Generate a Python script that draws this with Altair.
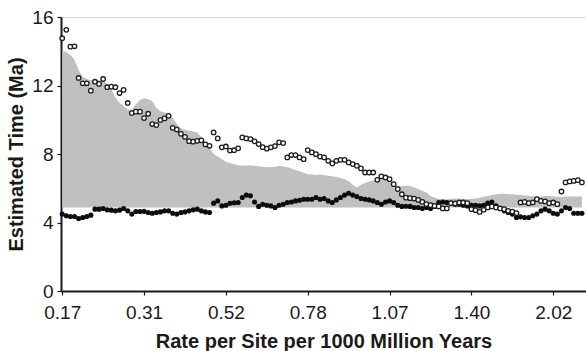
import altair as alt
import pandas as pd

# Rate labels at every 20th estimate
tick_index = [0, 20, 40, 60, 80, 100, 120]
tick_labels = ["0.17", "0.31", "0.52", "0.78", "1.07", "1.40", "2.02"]

# Open circles (estimated time, Ma)
open_times = [
    14.76, 15.25, 14.27, 14.29, 12.44, 12.13, 12.13, 11.7, 12.22, 12.09,
    12.38, 11.9, 11.93, 11.9, 11.56, 11.74, 10.98, 10.39, 10.47, 10.47,
    10.1, 10.35, 9.75, 9.69, 9.98, 10.08, 10.23, 9.53, 9.43, 9.18,
    9.0, 8.75, 8.72, 8.77, 8.8, 8.56, 8.48, 9.26, 8.91, 8.39,
    8.44, 8.2, 8.22, 8.33, 8.97, 8.91, 8.87, 8.74, 8.58, 8.4,
    8.31, 8.39, 8.46, 8.68, 8.64, 7.8, 7.94, 7.94, 7.8, 7.7,
    8.23, 8.09, 7.99, 7.85, 7.8, 7.6, 7.45, 7.6, 7.66, 7.66,
    7.51, 7.41, 7.31, 7.16, 6.92, 6.92, 6.92, 6.49, 6.69, 6.63,
    6.53, 6.24, 5.95, 5.65, 5.45, 5.42, 5.4, 5.32, 5.2, 5.07,
    5.01, 4.97, 4.94, 4.82, 4.82, 5.13, 5.11, 5.17, 5.17, 5.13,
    4.78, 4.72, 4.62, 4.74, 4.88, 4.94, 4.88, 4.82, 4.78, 4.68,
    4.64, 4.55, 5.17, 5.2, 5.13, 5.17, 5.36, 5.26, 5.23, 5.13,
    5.17, 5.07, 5.81, 6.34, 6.4, 6.43, 6.47, 6.34,
]

# Filled circles (estimated time, Ma)
filled_times = [
    4.49, 4.39, 4.35, 4.35, 4.23, 4.29, 4.35, 4.43, 4.78, 4.78,
    4.82, 4.74, 4.72, 4.68, 4.72, 4.82, 4.68, 4.49, 4.64, 4.64,
    4.65, 4.58, 4.54, 4.58, 4.62, 4.68, 4.68, 4.54, 4.49, 4.58,
    4.62, 4.68, 4.74, 4.78, 4.68, 4.62, 4.58, 5.13, 5.26, 4.97,
    5.01, 5.12, 5.15, 5.17, 5.46, 5.6, 5.56, 5.2, 4.94, 5.07,
    5.01, 4.97, 4.88, 5.01, 5.07, 5.17, 5.2, 5.26, 5.3, 5.36,
    5.36, 5.36, 5.46, 5.36, 5.4, 5.26, 5.17, 5.32, 5.46, 5.6,
    5.71, 5.6, 5.52, 5.4, 5.36, 5.32, 5.26, 5.17, 5.07, 5.2,
    5.26, 5.17, 5.01, 4.94, 4.95, 4.94, 4.88, 4.88, 4.82, 4.88,
    4.82, 4.94, 5.17, 5.2, 5.17, 5.13, 5.07, 5.07, 5.01, 4.97,
    5.01, 5.01, 4.97, 5.01, 5.13, 5.2, 4.97, 4.82, 4.68, 4.58,
    4.49, 4.29, 4.33, 4.29, 4.29, 4.39, 4.49, 4.68, 4.78, 4.68,
    4.54, 4.49, 4.68, 4.88, 4.82, 4.54, 4.54, 4.54,
]

# Grey band: upper bound and flat lower bound
band_upper = [
    14.04, 13.95, 13.8, 13.5, 12.9, 12.5, 12.4, 12.3, 12.3, 12.3,
    12.28, 12.1, 11.8, 11.3, 11.0, 10.8, 10.6, 10.6, 10.9, 11.15,
    11.25, 11.2, 11.1, 10.7, 10.5, 10.43, 10.35, 10.1, 9.75, 9.5,
    9.42, 9.36, 9.33, 9.26, 9.0, 8.7, 8.35, 8.0, 7.85, 7.7,
    7.55, 7.48, 7.4, 7.35, 7.31, 7.33, 7.35, 7.32, 7.28, 7.26,
    7.24, 7.22, 7.26, 7.3, 7.28, 7.22, 7.15, 7.06, 7.0, 6.9,
    6.82, 6.8, 6.78, 6.8, 6.77, 6.73, 6.7, 6.66, 6.6, 6.52,
    6.43, 6.2, 6.05, 6.2, 6.3, 6.4, 6.45, 6.5, 6.53, 6.5,
    6.4, 6.3, 6.15, 6.12, 6.15, 6.15, 6.05, 5.95, 5.85, 5.75,
    5.55, 5.45, 5.38, 5.36, 5.36, 5.38, 5.4, 5.4, 5.38, 5.36,
    5.38, 5.4, 5.45, 5.5, 5.55, 5.6, 5.65, 5.68, 5.68, 5.65,
    5.65, 5.62, 5.6, 5.58, 5.56, 5.53, 5.52, 5.52, 5.55, 5.55,
    5.52, 5.5, 5.5, 5.52, 5.52, 5.52, 5.52, 5.52,
]
band_lower = 4.88

df = pd.DataFrame({
    "idx": list(range(len(open_times))),
    "open": open_times,
    "filled": filled_times,
    "upper": band_upper,
})
df["lower"] = band_lower

label_js = "[" + ",".join("'" + s + "'" for s in tick_labels) + "]"

FONT = "Liberation Sans"

x_enc = alt.X(
    "idx:Q",
    scale=alt.Scale(domain=[-0.3, 128], nice=False, zero=False),
    axis=alt.Axis(
        values=tick_index,
        labelExpr=label_js + "[round(datum.value / 20)]",
        title="Rate per Site per 1000 Million Years",
        titleFont=FONT, titleFontSize=20, titleFontWeight="bold", titleColor="#1a1a1a",
        labelFont=FONT, labelFontSize=19, labelColor="#1a1a1a",
        labelPadding=8, titlePadding=9,
        tickSize=4, tickColor="#1a1a1a", tickWidth=1.2,
        domainColor="#1a1a1a", domainWidth=2, grid=False,
        labelFlush=False,
    ),
)

y_scale = alt.Scale(domain=[0, 16], nice=False)
y_axis = alt.Axis(
    values=[0, 2, 4, 6, 8, 10, 12, 14, 16],
    labelExpr="datum.value % 4 == 0 ? datum.label : ''",
    title="Estimated Time (Ma)",
    titleFont=FONT, titleFontSize=20, titleFontWeight="bold", titleColor="#1a1a1a",
    labelFont=FONT, labelFontSize=19, labelColor="#1a1a1a",
    labelPadding=4, titlePadding=5,
    tickSize=4, tickColor="#1a1a1a", tickWidth=1.2,
    domainColor="#1a1a1a", domainWidth=2, grid=False,
    labelFlush=False,
)

base = alt.Chart(df)

band = base.mark_area(color="#c0c0c0", opacity=1, interpolate="linear").encode(
    x=x_enc,
    y=alt.Y("upper:Q", scale=y_scale, axis=y_axis),
    y2="lower:Q",
)

filled = base.mark_point(
    shape="circle", filled=True, color="#0d0d0d", size=26, opacity=1
).encode(x="idx:Q", y="filled:Q")

opened = base.mark_point(
    shape="circle", filled=True, fill="white", stroke="#1e1e1e",
    strokeWidth=1.3, size=20, opacity=1
).encode(x="idx:Q", y="open:Q")

chart = alt.layer(band, filled, opened).properties(
    width=525, height=274,
    autosize=alt.AutoSizeParams(type="none"),
    padding={"left": 61, "top": 17, "right": 0, "bottom": 60},
).configure_view(stroke=None).configure(background="white")

chart.save("out.html", embed_options={"renderer": "svg", "actions": False})
